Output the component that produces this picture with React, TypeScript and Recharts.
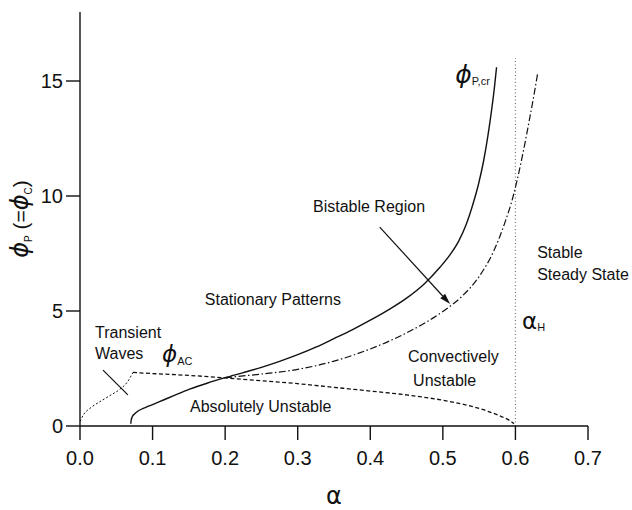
import React from 'react';
import { LineChart, Line, XAxis, YAxis, ReferenceLine, ReferenceDot } from 'recharts';

// Axis ticks
const alphaTicks = [0, 0.1, 0.2, 0.3, 0.4, 0.5, 0.6, 0.7];
const phiTicks = [0, 5, 10, 15];

// Critical pattern threshold  phi_P,cr(alpha)  (solid)
const crAlpha = [0.07, 0.0705, 0.072, 0.075, 0.08, 0.09, 0.1, 0.115, 0.13, 0.151, 0.175, 0.2, 0.225, 0.25, 0.275, 0.3, 0.325, 0.35, 0.375, 0.4, 0.425, 0.45, 0.475, 0.496, 0.51, 0.522, 0.532, 0.541, 0.549, 0.556, 0.562, 0.567, 0.571, 0.574];
const crPhi = [0.1, 0.25, 0.4, 0.52, 0.65, 0.8, 0.93, 1.13, 1.33, 1.6, 1.86, 2.1, 2.32, 2.55, 2.81, 3.1, 3.43, 3.8, 4.18, 4.6, 5.05, 5.56, 6.2, 6.9, 7.45, 8.05, 8.75, 9.6, 10.5, 11.5, 12.6, 13.7, 14.7, 15.6];

// Upper edge of the bistable region  (dash-dot)
const bistAlpha = [0.2, 0.25, 0.3, 0.35, 0.4, 0.45, 0.5, 0.525, 0.55, 0.57, 0.585, 0.597, 0.608, 0.618, 0.625, 0.631];
const bistPhi = [2.1, 2.26, 2.46, 2.82, 3.35, 4.05, 4.98, 5.6, 6.5, 7.6, 8.8, 10.0, 11.5, 13.1, 14.3, 15.4];

// Absolute / convective boundary phi_AC(alpha): transient branch and main branch (dashed)
const acLowAlpha = [0.0, 0.005, 0.015, 0.027, 0.04, 0.055, 0.065, 0.073];
const acLowPhi = [0.2, 0.5, 0.8, 1.05, 1.3, 1.6, 1.9, 2.33];
const acAlpha = [0.073, 0.1, 0.15, 0.2, 0.25, 0.3, 0.35, 0.4, 0.45, 0.5, 0.53, 0.56, 0.58, 0.592, 0.598];
const acPhi = [2.33, 2.28, 2.2, 2.09, 1.97, 1.84, 1.68, 1.52, 1.35, 1.12, 0.93, 0.66, 0.42, 0.24, 0.1];

// Hopf point alpha_H
const alphaH = 0.6;
const alphaHTop = 16;

// Region names: text and the alpha / phi of each text's baseline-left corner
const regionText = ['Transient', 'Waves', 'Stationary Patterns', 'Bistable Region', 'Absolutely Unstable', 'Convectively', 'Unstable', 'Stable', 'Steady State'];
const regionAlpha = [0.0207, 0.0207, 0.172, 0.321, 0.1516, 0.452, 0.459, 0.63, 0.63];
const regionPhi = [3.83, 2.91, 5.26, 9.3, 0.6, 2.78, 1.74, 7.3, 6.35];

// Pointer arrows [from, to]
const bistArrow = [{ x: 0.413, y: 8.65 }, { x: 0.51, y: 5.3 }];
const wavesPointer = [{ x: 0.0317, y: 2.43 }, { x: 0.066, y: 1.35 }];

const zip = (xs: number[], ys: number[]) => xs.map((a, i) => ({ a, phi: ys[i] }));

const crData = zip(crAlpha, crPhi);
const bistData = zip(bistAlpha, bistPhi);
const acLowData = zip(acLowAlpha, acLowPhi);
const acData = zip(acAlpha, acPhi);

const INK = '#111';
const SANS = '"Liberation Sans", Arial, sans-serif';
const GREEK = '"DejaVu Sans", sans-serif';

const textShape = (content: React.ReactNode, size = 16) => (props: any) => (
  <text x={props.cx} y={props.cy} fontSize={size} fill={INK} fontFamily={SANS}>
    {content}
  </text>
);

const lineShape = (withHead: boolean) => (props: any) => {
  const { x1, y1, x2, y2 } = props;
  const ang = Math.atan2(y2 - y1, x2 - x1);
  const len = 11;
  const half = 3.2;
  const bx = x2 - len * Math.cos(ang);
  const by = y2 - len * Math.sin(ang);
  const px = -Math.sin(ang) * half;
  const py = Math.cos(ang) * half;
  return (
    <g>
      <line x1={x1} y1={y1} x2={withHead ? bx : x2} y2={withHead ? by : y2} stroke={INK} strokeWidth={1.2} />
      {withHead && (
        <polygon points={`${x2},${y2} ${bx + px},${by + py} ${bx - px},${by - py}`} fill={INK} />
      )}
    </g>
  );
};

const renderYLabel = (props: any) => {
  const vb = props && props.viewBox ? props.viewBox : { x: 0, y: 12, width: 80, height: 414 };
  const cx = vb.x + 28;
  const cy = vb.y + vb.height / 2;
  return (
    <text x={cx} y={cy} transform={`rotate(-90 ${cx} ${cy})`} textAnchor="middle" fill={INK} fontFamily={SANS} fontSize={21}>
      <tspan fontFamily={GREEK} fontStyle="italic" fontSize={24}>ϕ</tspan>
      <tspan fontSize={10} dy={4}>P</tspan>
      <tspan fontSize={21} dy={-4}> (=</tspan>
      <tspan fontFamily={GREEK} fontStyle="italic" fontSize={24}>ϕ</tspan>
      <tspan fontSize={10} dy={4}>C</tspan>
      <tspan fontSize={21} dy={-4}>)</tspan>
    </text>
  );
};

const renderXLabel = (props: any) => {
  const vb = props && props.viewBox ? props.viewBox : { x: 80, y: 426, width: 508, height: 84 };
  return (
    <text x={vb.x + vb.width / 2} y={vb.y + 78} textAnchor="middle" fill={INK} fontFamily={GREEK} fontSize={24}>
      α
    </text>
  );
};

export default function App() {
  return (
    <div style={{ position: 'absolute', left: 0, top: 0, background: '#fff', fontFamily: SANS }}>
      <LineChart width={632} height={510} margin={{ top: 12, right: 44, bottom: 0, left: 0 }}>
        <XAxis
          dataKey="a"
          type="number"
          domain={[0, 0.7]}
          ticks={alphaTicks}
          tickFormatter={(v: number) => v.toFixed(1)}
          height={84}
          tickSize={14}
          tickMargin={11}
          axisLine={{ stroke: INK, strokeWidth: 1.4 }}
          tickLine={{ stroke: INK, strokeWidth: 1.4 }}
          tick={{ fill: INK, fontSize: 20, fontFamily: SANS }}
          label={renderXLabel}
          allowDataOverflow
        />
        <YAxis
          type="number"
          domain={[0, 18]}
          ticks={phiTicks}
          width={80}
          tickSize={14}
          tickMargin={3}
          axisLine={{ stroke: INK, strokeWidth: 1.4 }}
          tickLine={{ stroke: INK, strokeWidth: 1.4 }}
          tick={{ fill: INK, fontSize: 20, fontFamily: SANS }}
          label={renderYLabel}
          allowDataOverflow
        />

        <ReferenceLine
          segment={[{ x: alphaH, y: 0 }, { x: alphaH, y: alphaHTop }]}
          stroke="#777"
          strokeWidth={1.2}
          strokeDasharray="1 2.5"
        />

        <Line data={acLowData} dataKey="phi" type="monotone" stroke={INK} strokeWidth={1} strokeDasharray="2 2" dot={false} activeDot={false} isAnimationActive={false} />
        <Line data={acData} dataKey="phi" type="monotone" stroke={INK} strokeWidth={1.3} strokeDasharray="4 2.5" dot={false} activeDot={false} isAnimationActive={false} />
        <Line data={bistData} dataKey="phi" type="monotone" stroke={INK} strokeWidth={1.2} strokeDasharray="7 2.5 1.5 2.5" dot={false} activeDot={false} isAnimationActive={false} />
        <Line data={crData} dataKey="phi" type="monotone" stroke={INK} strokeWidth={1.4} dot={false} activeDot={false} isAnimationActive={false} />

        <ReferenceLine segment={bistArrow} shape={lineShape(true)} />
        <ReferenceLine segment={wavesPointer} shape={lineShape(false)} />

        {regionText.map((t, i) => (
          <ReferenceDot key={t} x={regionAlpha[i]} y={regionPhi[i]} shape={textShape(t)} />
        ))}

        <ReferenceDot
          x={0.517}
          y={14.9}
          shape={(p: any) => (
            <text x={p.cx} y={p.cy} fill={INK} fontFamily={SANS}>
              <tspan fontFamily={GREEK} fontStyle="italic" fontSize={25}>ϕ</tspan>
              <tspan fontSize={11} dy={2}>P,cr</tspan>
            </text>
          )}
        />
        <ReferenceDot
          x={0.113}
          y={2.78}
          shape={(p: any) => (
            <text x={p.cx} y={p.cy} fill={INK} fontFamily={SANS}>
              <tspan fontFamily={GREEK} fontStyle="italic" fontSize={23}>ϕ</tspan>
              <tspan fontSize={11} dy={3}>AC</tspan>
            </text>
          )}
        />
        <ReferenceDot
          x={0.609}
          y={4.22}
          shape={(p: any) => (
            <text x={p.cx} y={p.cy} fill={INK} fontFamily={SANS}>
              <tspan fontFamily={GREEK} fontSize={23}>α</tspan>
              <tspan fontSize={11} dy={2}>H</tspan>
            </text>
          )}
        />
      </LineChart>
    </div>
  );
}
